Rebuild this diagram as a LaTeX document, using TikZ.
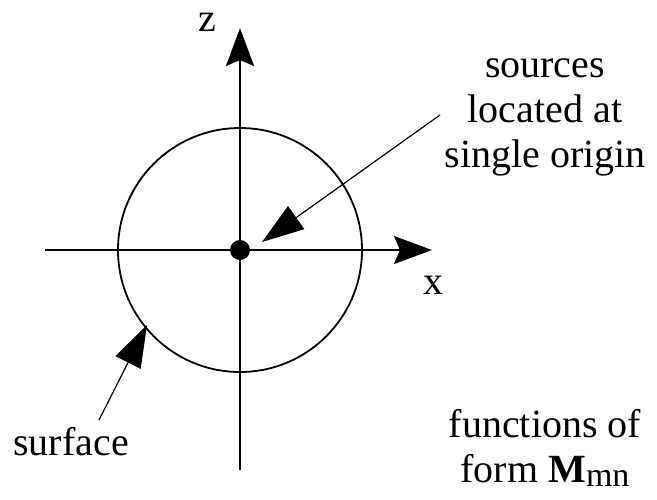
\documentclass[tikz,border=0pt]{standalone}
\usepackage{fontspec}
\setmainfont{Liberation Serif}
\usetikzlibrary{arrows.meta}
\tikzset{
  axis/.style={line width=0.75pt, -{Stealth[length=19pt,width=14pt,inset=3pt]}},
  pointer/.style={line width=0.6pt, -{Triangle[length=21pt,width=14pt]}},
  sphere/.style={line width=0.9pt},
  label/.style={font=\fontsize{20}{22.5}\selectfont, align=center, inner sep=0pt},
  source/.style={circle, fill=black, minimum size=10pt, inner sep=0pt}
}

\begin{document}
\begin{tikzpicture}[x=0.5pt, y=-0.5pt]
  \useasboundingbox (0,0) rectangle (657,499);
  % axes through the origin
  \coordinate (O) at (240,250);
  \coordinate (zbot) at (240,470);
  \coordinate (ztop) at (240,28);
  \coordinate (xleft) at (45,250);
  \coordinate (xright) at (432,250);
  \draw[axis] (zbot) -- (ztop);
  \draw[axis] (xleft) -- (xright);
  \node[label] (zlab) at (207,22) {z};
  \node[label] (xlab) at (433,285) {x};

  % surface around the sources
  \draw[sphere] (O) circle[radius=122];
  \node[source] (src) at (O) {};

  % labels and pointers
  \node[label, anchor=base] (srclab) at (545,167)
    {sources\\located at\\single origin};
  \coordinate (srctail) at (440,115);
  \coordinate (srctip) at (262,242);
  \draw[pointer] (srctail) -- (srctip);

  \node[label, anchor=base west] (surflab) at (13,455) {surface};
  \coordinate (surftail) at (99,420);
  \coordinate (surftip) at (147,325);
  \draw[pointer] (surftail) -- (surftip);

  \node[label, anchor=base] (funclab) at (545,482)
    {functions of\\form \textbf{M}\raisebox{-2pt}{\fontsize{17}{17}\selectfont mn}};
\end{tikzpicture}
\end{document}
